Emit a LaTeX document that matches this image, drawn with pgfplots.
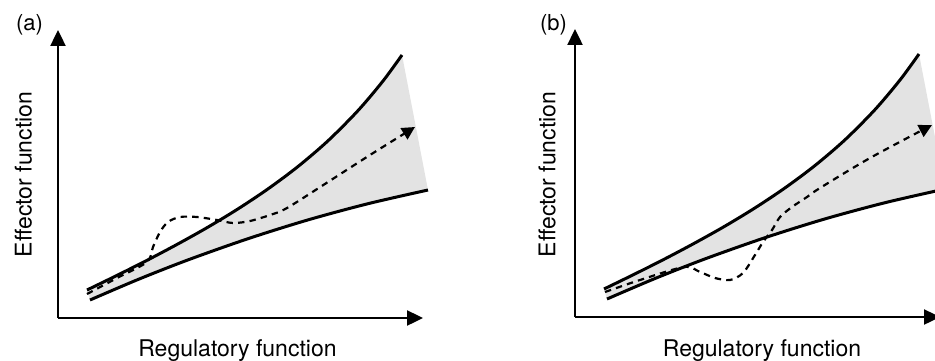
\documentclass[border=0pt]{standalone}
\usepackage{pgfplots}
\pgfplotsset{compat=1.18}
\usepackage{pgfplotstable}
\usepgfplotslibrary{fillbetween}
\usetikzlibrary{arrows.meta}
\usepackage{fontspec}
\setmainfont{TeX Gyre Heros}

\pgfplotstableread{
x y
29 28.0
60 43.1
90 58.2
120 74.1
150 90.9
180 109.1
210 129.1
240 151.5
270 177.2
300 207.4
325 237.0
344 263.0
}\uppercurve
\pgfplotstableread{
x y
32 18.0
80 38.5
130 58.1
190 79.3
250 98.1
310 114.3
370 128.0
}\lowercurve
\pgfplotstableread{
x y
29 24
59 40
89 56
95 71
102 86
110 96
122 101
139 101
159 98
175 95
192 97
212 103
229 110
270 136
312 163
357 191
}\dasha
\pgfplotstableread{
x y
30 25
65 37
109 50
125 45
140 39
155 37
168 44
180 62
188 75
197 87
205 100
217 110
232 120
245 129
295 159
357 192
}\dashb

\pgfplotsset{panel/.style={
  scale only axis, width=182.5pt, height=144pt,
  xmin=0, xmax=365, ymin=0, ymax=288,
  axis lines=left, xtick=\empty, ytick=\empty,
  axis line style={line width=1.2pt, -{Triangle[length=8pt,width=7.5pt]}},
  clip=false,
}}
\tikzset{bound/.style={line width=1.5pt, black, smooth},
  traj/.style={line width=1.1pt, black, smooth, tension=0.5, dash pattern=on 3.2pt off 2.6pt, -{Triangle[length=6.5pt,width=6.5pt]}}}

\begin{document}
\begin{tikzpicture}
\fontsize{11.5}{13}\selectfont
\begin{axis}[panel, at={(0pt,0pt)}, anchor=south west]
  \addplot[draw=none, smooth, name path=U] table {\uppercurve};
  \addplot[draw=none, smooth, name path=L] table {\lowercurve};
  \addplot[fill=black!11, draw=none] fill between[of=U and L];
  \addplot[bound] table {\uppercurve};
  \addplot[bound] table {\lowercurve};
  \addplot[traj] table {\dasha};
  \node[anchor=base west, font=\fontsize{11}{13}\selectfont] at (axis cs:-50,287) {(a)};
  \node[rotate=90, anchor=base] at (axis cs:-26.3,143.5) {Effector function};
  \node[anchor=base] at (axis cs:179.5,-38.7) {Regulatory function};
\end{axis}
\begin{axis}[panel, at={(258.5pt,0.5pt)}, anchor=south west]
  \addplot[draw=none, smooth, name path=U] table {\uppercurve};
  \addplot[draw=none, smooth, name path=L] table {\lowercurve};
  \addplot[fill=black!11, draw=none] fill between[of=U and L];
  \addplot[bound] table {\uppercurve};
  \addplot[bound] table {\lowercurve};
  \addplot[traj] table {\dashb};
  \node[anchor=base west, font=\fontsize{11}{13}\selectfont] at (axis cs:-43,286) {(b)};
  \node[rotate=90, anchor=base] at (axis cs:-19.7,142.5) {Effector function};
  \node[anchor=base] at (axis cs:187,-39.7) {Regulatory function};
\end{axis}
\pgfresetboundingbox
\path[use as bounding box] (-29pt,-21pt) rectangle (438.5pt,159pt);
\end{tikzpicture}
\end{document}
